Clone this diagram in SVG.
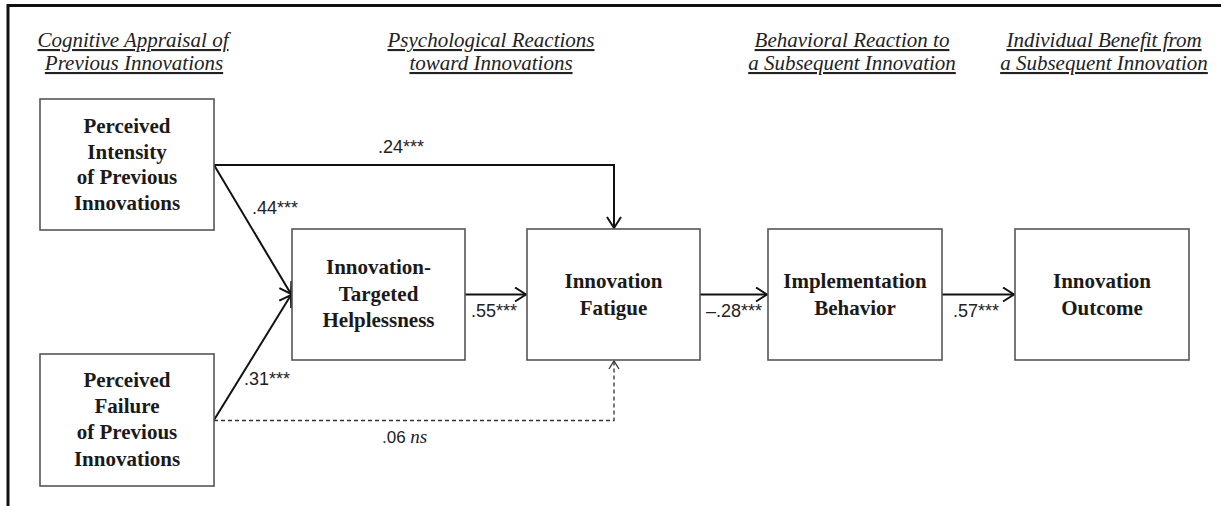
<svg xmlns="http://www.w3.org/2000/svg" width="1221" height="506" viewBox="0 0 1221 506">
<defs>
<style>
.frame{stroke:#111;stroke-width:3;fill:none}
.box{fill:#fff;stroke:#555;stroke-width:1.6}
.node{font-family:"Liberation Serif","Times New Roman",serif;font-weight:bold;font-size:21px;fill:#1a1a1a;text-anchor:middle}
.hdr{font-family:"Liberation Serif","Times New Roman",serif;font-style:italic;font-size:21px;fill:#222;text-anchor:middle;text-decoration:underline}
.lbl{font-family:"Liberation Sans",Arial,sans-serif;font-size:18px;fill:#222}
.edge{stroke:#111;stroke-width:2;fill:none}
.dash{stroke:#333;stroke-width:1.3;fill:none;stroke-dasharray:4 3}
</style>
<marker id="ah" markerWidth="14" markerHeight="16" refX="12" refY="8" orient="auto" markerUnits="userSpaceOnUse">
<path d="M1,1 L12,8 L1,15" fill="none" stroke="#111" stroke-width="2"/>
</marker>
<marker id="ahd" markerWidth="12" markerHeight="12" refX="9" refY="6" orient="auto" markerUnits="userSpaceOnUse">
<path d="M1,1 L9,6 L1,11" fill="none" stroke="#333" stroke-width="1.3"/>
</marker>
</defs>
<rect width="1221" height="506" fill="#fff"/>
<path class="frame" d="M8,506 L8,5.5 L1221,5.5"/>

<g id="headers">
<text class="hdr" x="133" y="47">Cognitive Appraisal of</text>
<text class="hdr" x="134" y="70">Previous Innovations</text>
<text class="hdr" x="491" y="47">Psychological Reactions</text>
<text class="hdr" x="491" y="70">toward Innovations</text>
<text class="hdr" x="852" y="47">Behavioral Reaction to</text>
<text class="hdr" x="852" y="70">a Subsequent Innovation</text>
<text class="hdr" x="1104" y="47">Individual Benefit from</text>
<text class="hdr" x="1104" y="70">a Subsequent Innovation</text>
</g>

<g id="connectors">
<path class="edge" d="M214,165 L614,165 L614,228" marker-end="url(#ah)"/>
<path class="edge" d="M214,165 L291,294" marker-end="url(#ah)"/>
<path class="edge" d="M214,420 L291,295" marker-end="url(#ah)"/>
<path class="dash" d="M214,420.5 L614,420.5 L614,361" marker-end="url(#ahd)"/>
<path class="edge" d="M465,294.5 L526,294.5" marker-end="url(#ah)"/>
<path class="edge" d="M700,294.5 L767,294.5" marker-end="url(#ah)"/>
<path class="edge" d="M942,294.5 L1014,294.5" marker-end="url(#ah)"/>
<text class="lbl" x="378" y="153">.24***</text>
<text class="lbl" x="252" y="214">.44***</text>
<text class="lbl" x="244" y="385">.31***</text>
<text class="lbl" x="471" y="317">.55***</text>
<text class="lbl" x="706" y="317">–.28***</text>
<text class="lbl" x="953" y="317">.57***</text>
<text class="lbl" x="382" y="443" style="font-size:17px">.06 <tspan style="font-family:'Liberation Serif',serif;font-style:italic;font-size:19px">ns</tspan></text>
</g>

<g id="n-intensity">
<rect class="box" x="40" y="99" width="174" height="131"/>
<text class="node" x="127" y="133">Perceived</text>
<text class="node" x="127" y="159">Intensity</text>
<text class="node" x="127" y="184">of Previous</text>
<text class="node" x="127" y="210">Innovations</text>
</g>

<g id="n-failure">
<rect class="box" x="40" y="354" width="174" height="132"/>
<text class="node" x="127" y="387">Perceived</text>
<text class="node" x="127" y="413">Failure</text>
<text class="node" x="127" y="439">of Previous</text>
<text class="node" x="127" y="466">Innovations</text>
</g>

<g id="n-helplessness">
<rect class="box" x="292" y="229" width="173" height="131"/>
<text class="node" x="378.5" y="274">Innovation-</text>
<text class="node" x="378.5" y="301">Targeted</text>
<text class="node" x="378.5" y="327">Helplessness</text>
</g>

<g id="n-fatigue">
<rect class="box" x="527" y="229" width="173" height="131"/>
<text class="node" x="613.5" y="288">Innovation</text>
<text class="node" x="613.5" y="315">Fatigue</text>
</g>

<g id="n-implementation">
<rect class="box" x="768" y="229" width="174" height="131"/>
<text class="node" x="855" y="288">Implementation</text>
<text class="node" x="855" y="315">Behavior</text>
</g>

<g id="n-outcome">
<rect class="box" x="1015" y="229" width="174" height="131"/>
<text class="node" x="1102" y="288">Innovation</text>
<text class="node" x="1102" y="315">Outcome</text>
</g>
</svg>
